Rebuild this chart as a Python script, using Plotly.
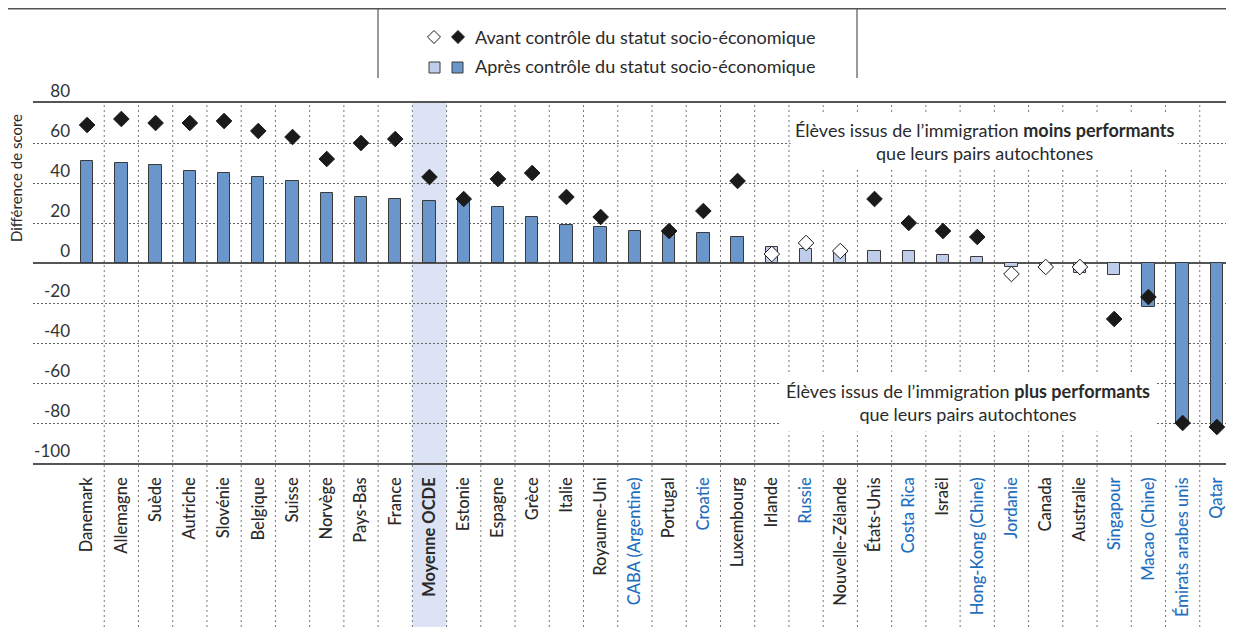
import plotly.graph_objects as go

categories = ["Danemark", "Allemagne", "Suède", "Autriche", "Slovénie", "Belgique", "Suisse",
              "Norvège", "Pays-Bas", "France", "Moyenne OCDE", "Estonie", "Espagne", "Grèce",
              "Italie", "Royaume-Uni", "CABA (Argentine)", "Portugal", "Croatie", "Luxembourg",
              "Irlande", "Russie", "Nouvelle-Zélande", "États-Unis", "Costa Rica", "Israël",
              "Hong-Kong (Chine)", "Jordanie", "Canada", "Australie", "Singapour",
              "Macao (Chine)", "Émirats arabes unis", "Qatar"]

# Score difference after accounting for socio-economic status (bars)
apres = [51, 50, 49, 46, 45, 43, 41, 35, 33, 32, 31, 31, 28, 23, 19, 18, 16, 15.5, 15, 13,
         8, 7, 5.5, 6, 6, 4, 3, -2, -1, -5, -6, -22, -80, -83]
apres_signif = [True] * 20 + [False] * 11 + [True] * 3

# Score difference before accounting for socio-economic status (diamonds)
avant = [69, 72, 70, 70, 71, 66, 63, 52, 60, 62, 43, 32, 42, 45, 33, 23, None, 16, 26, 41,
         4.5, 10, 6, 32, 20, 16, 13, -5.5, -2, -2, -28, -17, -80, -82]
avant_signif = [True] * 20 + [False, False, False, True, True, True, True, False, False, False,
                              True, True, True, True]

partenaires = {"CABA (Argentine)", "Croatie", "Russie", "Costa Rica", "Hong-Kong (Chine)",
               "Jordanie", "Singapour", "Macao (Chine)", "Émirats arabes unis", "Qatar"}
moyenne = "Moyenne OCDE"

y_ticks = [-100, -80, -60, -40, -20, 0, 20, 40, 60, 80]
y_ticktext = ["-100", "-80", "-60", "-40", "-20", "0", "20", "40", "60", "80"]

DARK = "#6b96cc"
LIGHT = "#bfcdeb"
BLUE_TXT = "#1f6fbf"
TXT = "#2a2a2a"
FONT = "Lato"

OFF = 8  # page body margin
W, H = 1226, 619
ML, MR, MT, MB = 25, 0, 95, 164
PW, PH = W - ML - MR, H - MT - MB

def px_x(p):
    return (p - OFF - ML) / PW

def px_y(p):
    return (H - MB - (p - OFF)) / PH

xs = list(range(len(categories)))
ticktext = []
for c in categories:
    if c == moyenne:
        ticktext.append("<b>" + c + "</b>")
    elif c in partenaires:
        ticktext.append('<span style="color:%s">%s</span>' % (BLUE_TXT, c))
    else:
        ticktext.append(c)

fig = go.Figure()
fig.add_trace(go.Bar(
    x=xs, y=apres, width=0.36,
    marker=dict(color=[DARK if s else LIGHT for s in apres_signif],
                line=dict(color="#3a3a3a", width=1)),
    showlegend=False,
))
fig.add_trace(go.Scatter(
    x=xs, y=avant, mode="markers",
    marker=dict(symbol="diamond", size=12,
                color=["#1a1a1a" if s else "white" for s in avant_signif],
                line=dict(color="#1a1a1a", width=1)),
    showlegend=False,
))

shapes = []
i_m = categories.index(moyenne)
shapes.append(dict(type="rect", xref="x", yref="paper", x0=i_m - 0.5, x1=i_m + 0.5,
                   y0=-MB / PH, y1=1, fillcolor="#dce3f4", line=dict(width=0), layer="below"))
for i in range(1, len(categories)):
    shapes.append(dict(type="line", xref="x", yref="paper", x0=i - 0.5, x1=i - 0.5,
                       y0=-MB / PH, y1=1, line=dict(color="#777", width=1, dash="2px,3px"),
                       layer="below"))
shapes.append(dict(type="line", xref="paper", yref="paper", x0=px_x(8), x1=1,
                   y0=px_y(8.8), y1=px_y(8.8), line=dict(color="#555", width=1.5)))
for xv in (378, 857):
    shapes.append(dict(type="line", xref="paper", yref="paper", x0=px_x(xv), x1=px_x(xv),
                       y0=px_y(8), y1=px_y(78), line=dict(color="#555", width=1.2)))

def diamond(cx, cy, fill):
    hw, hh = 6.5 / PW, 6.5 / PH
    x, y = px_x(cx), px_y(cy)
    return dict(type="path", xref="paper", yref="paper",
                path="M %f,%f L %f,%f L %f,%f L %f,%f Z" % (x, y + hh, x + hw, y, x, y - hh, x - hw, y),
                fillcolor=fill, line=dict(color="#1a1a1a", width=1))

def square(x0, x1, y0, y1, fill):
    return dict(type="rect", xref="paper", yref="paper", x0=px_x(x0), x1=px_x(x1),
                y0=px_y(y1), y1=px_y(y0), fillcolor=fill, line=dict(color="#3a3a3a", width=1))

shapes += [diamond(434, 37, "white"), diamond(458, 37, "#1a1a1a"),
           square(429, 440, 62, 73, LIGHT), square(452, 463, 62, 73, DARK)]

annotations = [
    dict(xref="paper", yref="paper", x=px_x(473), y=px_y(37), xanchor="left", yanchor="middle",
         text="Avant contrôle du statut socio-économique", showarrow=False,
         font=dict(size=18, color=TXT, family=FONT)),
    dict(xref="paper", yref="paper", x=px_x(473), y=px_y(66), xanchor="left", yanchor="middle",
         text="Après contrôle du statut socio-économique", showarrow=False,
         font=dict(size=18, color=TXT, family=FONT)),
    dict(xref="paper", yref="paper", x=px_x(16), y=px_y(178), textangle=-90,
         text="Différence de score", showarrow=False, xanchor="center", yanchor="middle",
         font=dict(size=15, color=TXT, family=FONT)),
    dict(xref="paper", yref="paper", x=px_x(984), y=px_y(142), xanchor="center", yanchor="middle",
         text="Élèves issus de l’immigration <b>moins performants</b><br>que leurs pairs autochtones",
         showarrow=False, bgcolor="white", borderpad=4,
         font=dict(size=18, color=TXT, family=FONT)),
    dict(xref="paper", yref="paper", x=px_x(968), y=px_y(402), xanchor="center", yanchor="middle",
         text="Élèves issus de l’immigration <b>plus performants</b><br>que leurs pairs autochtones",
         showarrow=False, bgcolor="white", borderpad=6,
         font=dict(size=18, color=TXT, family=FONT)),
]

first_px = 70 - OFF
n = len(categories)
cat_w = (W - MR - first_px) / n
x_lo = -0.5 - (first_px - ML) / cat_w
label_edge = 72 - OFF  # where y tick labels are right-aligned (approx.)

fig.update_layout(
    width=W, height=H,
    margin=dict(l=ML, r=MR, t=MT, b=MB),
    paper_bgcolor="white", plot_bgcolor="rgba(0,0,0,0)",
    font=dict(family=FONT, color=TXT),
    bargap=0,
    shapes=shapes, annotations=annotations,
    xaxis=dict(range=[x_lo, n - 0.5], tickmode="array", tickvals=xs, ticktext=ticktext,
               tickangle=-90, ticks="", ticklabelstandoff=6,
               tickfont=dict(size=16.5, color=TXT, family=FONT, weight=500),
               showgrid=False, zeroline=False, showline=True, mirror=True,
               linecolor="#555", linewidth=1.5),
    yaxis=dict(range=[-100, 80], tickmode="array", tickvals=y_ticks, ticktext=y_ticktext,
               anchor="free", position=(label_edge - ML) / PW,
               ticklabelposition="outside top", ticks="", ticklabelstandoff=2,
               tickfont=dict(size=17, color="#333", family=FONT),
               showgrid=True, gridcolor="#666", gridwidth=1, griddash="2px,2px",
               zeroline=True, zerolinecolor="#555", zerolinewidth=1.8,
               showline=False),
)

fig.write_html("out.html")
